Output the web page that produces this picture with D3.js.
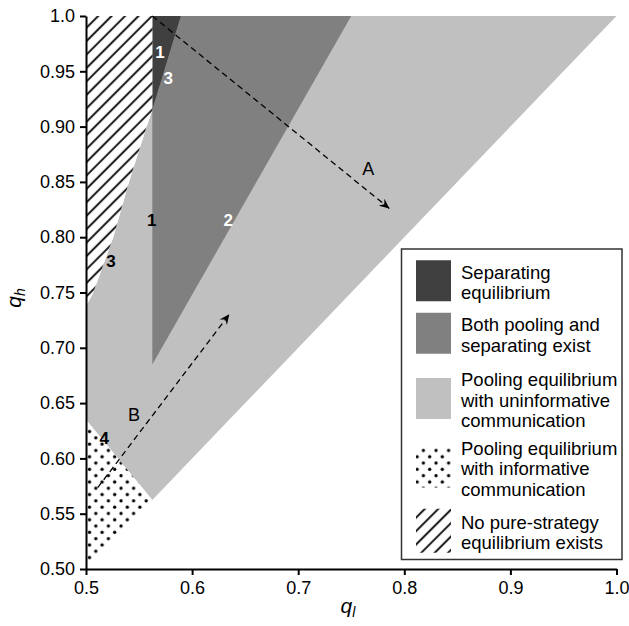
<!DOCTYPE html>
<html><head><meta charset="utf-8">
<script src="https://cdn.jsdelivr.net/npm/d3@7"></script>
<style>body{margin:0;background:#fff}svg{display:block}text{font-family:"Liberation Sans",Arial,Helvetica,sans-serif}</style>
</head><body><svg id="c" width="629" height="626"></svg>
<script>
// ---- data ----
const qlTicks = [0.5, 0.6, 0.7, 0.8, 0.9, 1.0];
const qlTickLabels = ["0.5", "0.6", "0.7", "0.8", "0.9", "1.0"];
const qhTicks = [0.5, 0.55, 0.6, 0.65, 0.7, 0.75, 0.8, 0.85, 0.9, 0.95, 1.0];
const qhTickLabels = ["0.50", "0.55", "0.60", "0.65", "0.70", "0.75", "0.80", "0.85", "0.90", "0.95", "1.0"];
// region boundaries [q_l, q_h]
const hatchBoundary = [[0.5, 0.7376], [0.5069, 0.75], [0.5257, 0.80], [0.5405, 0.85], [0.5572, 0.90], [0.5625, 0.915]];
const lightRegion = [[0.5, 0.635], ...hatchBoundary, [0.5625, 1.0], [1.0, 1.0], [0.5625, 0.5625]];
const mediumRegion = [[0.5625, 0.685], [0.5625, 0.915], [0.5895, 1.0], [0.75, 1.0]];
const darkRegion = [[0.5625, 0.915], [0.5625, 1.0], [0.5895, 1.0]];
const dottedRegion = [[0.5, 0.5], [0.5625, 0.5625], [0.5, 0.635]];
const hatchRegion = [...hatchBoundary, [0.5625, 1.0], [0.5, 1.0]];
// region number labels
const numLabels = [
  {t: "1", x: 0.5697, y: 0.9677, c: "#fff"},
  {t: "3", x: 0.5776, y: 0.9442, c: "#fff"},
  {t: "1", x: 0.5619, y: 0.816, c: "#000"},
  {t: "2", x: 0.6341, y: 0.816, c: "#fff"},
  {t: "3", x: 0.5236, y: 0.7783, c: "#000"},
  {t: "4", x: 0.5172, y: 0.6184, c: "#000"}
];
const arrows = [
  {name: "A", from: [0.5625, 1.0], to: [0.7859, 0.826], lx: 0.7661, ly: 0.8622},
  {name: "B", from: [0.511, 0.5735], to: [0.6351, 0.7303], lx: 0.5452, ly: 0.6395}
];
const legendLabels = [
  ["Separating", "equilibrium"],
  ["Both pooling and", "separating exist"],
  ["Pooling equilibrium", "with uninformative", "communication"],
  ["Pooling equilibrium", "with informative", "communication"],
  ["No pure-strategy", "equilibrium exists"]
];
const legendFills = ["#404040", "#808080", "#c0c0c0", "url(#dots)", "url(#hatch)"];

// ---- drawing ----
const svg = d3.select("#c");
const W = 629, H = 626, m = {l: 86, r: 12.5, t: 16, b: 57};
const x = d3.scaleLinear().domain([0.5, 1.0]).range([m.l, W - m.r]);
const y = d3.scaleLinear().domain([0.5, 1.0]).range([H - m.b, m.t]);

const defs = svg.append("defs");
const dp = defs.append("pattern").attr("id", "dots").attr("patternUnits", "userSpaceOnUse")
  .attr("width", 12.6).attr("height", 12.6).attr("x", m.l).attr("y", 0);
dp.append("rect").attr("width", 12.6).attr("height", 12.6).attr("fill", "#fff");
dp.append("circle").attr("cx", 3.5).attr("cy", 3.2).attr("r", 1.65).attr("fill", "#000");
dp.append("circle").attr("cx", 9.8).attr("cy", 9.5).attr("r", 1.65).attr("fill", "#000");
const hp = defs.append("pattern").attr("id", "hatch").attr("patternUnits", "userSpaceOnUse")
  .attr("width", 9.5).attr("height", 9.5).attr("patternTransform", "rotate(-45)");
hp.append("rect").attr("width", 9.5).attr("height", 9.5).attr("fill", "#fff");
hp.append("line").attr("x1", 0).attr("x2", 9.5).attr("y1", 4.75).attr("y2", 4.75)
  .attr("stroke", "#222").attr("stroke-width", 2.1);
const mk = defs.append("marker").attr("id", "ah").attr("viewBox", "-10 -5 11 10")
  .attr("refX", 0).attr("refY", 0).attr("markerWidth", 11).attr("markerHeight", 10)
  .attr("markerUnits", "userSpaceOnUse").attr("orient", "auto");
mk.append("path").attr("d", "M0,0 L-10,-4.5 L-6.5,0 L-10,4.5 Z").attr("fill", "#000");

const line = d3.line().x(d => x(d[0])).y(d => y(d[1]));
const poly = (pts, fill) => svg.append("path").attr("d", line(pts) + "Z").attr("fill", fill);
poly(lightRegion, "#c0c0c0");
poly(mediumRegion, "#808080");
poly(darkRegion, "#404040");
poly(dottedRegion, "url(#dots)");
poly(hatchRegion, "url(#hatch)");

// axes
const xAxis = d3.axisBottom(x).tickValues(qlTicks).tickFormat((d, i) => qlTickLabels[i]).tickSize(6).tickSizeOuter(0).tickPadding(6);
const yAxis = d3.axisLeft(y).tickValues(qhTicks).tickFormat((d, i) => qhTickLabels[i]).tickSize(6).tickSizeOuter(0).tickPadding(5);
const gx = svg.append("g").attr("transform", `translate(0,${y(0.5)})`).call(xAxis);
const gy = svg.append("g").attr("transform", `translate(${x(0.5)},0)`).call(yAxis);
[gx, gy].forEach(g => {
  g.select(".domain").attr("stroke", "#000").attr("stroke-width", 2);
  g.selectAll(".tick line").attr("stroke", "#000").attr("stroke-width", 2);
  g.selectAll(".tick text").attr("fill", "#000").attr("font-size", 18)
   .attr("font-family", '"Liberation Sans", Arial, sans-serif');
});

// axis titles
const tx = svg.append("text").attr("x", 348).attr("y", 613).attr("text-anchor", "middle")
  .attr("font-size", 21).attr("font-style", "italic");
tx.append("tspan").text("q");
tx.append("tspan").attr("font-size", 14).attr("dy", 4).text("l");
const ty = svg.append("text").attr("transform", "translate(21,298) rotate(-90)").attr("text-anchor", "middle")
  .attr("font-size", 21).attr("font-style", "italic");
ty.append("tspan").text("q");
ty.append("tspan").attr("font-size", 14).attr("dy", 4).text("h");

// arrows
arrows.forEach(a => {
  svg.append("line").attr("x1", x(a.from[0])).attr("y1", y(a.from[1]))
    .attr("x2", x(a.to[0])).attr("y2", y(a.to[1]))
    .attr("stroke", "#000").attr("stroke-width", 1.3).attr("stroke-dasharray", "6,4")
    .attr("marker-end", "url(#ah)");
  svg.append("text").attr("x", x(a.lx)).attr("y", y(a.ly)).attr("dy", "0.36em")
    .attr("text-anchor", "middle").attr("font-size", 18).text(a.name);
});

// number labels
numLabels.forEach(d => svg.append("text").attr("x", x(d.x)).attr("y", y(d.y)).attr("dy", "0.36em")
  .attr("text-anchor", "middle").attr("font-size", 17).attr("font-weight", "bold")
  .attr("fill", d.c).text(d.t));

// legend
svg.append("rect").attr("x", 401.5).attr("y", 249).attr("width", 220.5).attr("height", 310.5)
  .attr("fill", "#fff").attr("stroke", "#333").attr("stroke-width", 1.5);
const firstBase = [278.5, 331, 386, 454.5, 528.5];
const lh = 20.5;
legendFills.forEach((f, i) => {
  const lines = legendLabels[i];
  const b0 = firstBase[i], bN = b0 + lh * (lines.length - 1);
  const cy = (b0 - 13 + bN) / 2 - 1.5;
  const sh = i === 4 ? 44 : 41;
  svg.append("rect").attr("x", 416).attr("y", cy - sh / 2).attr("width", 35).attr("height", sh)
    .attr("fill", f);
  lines.forEach((t, j) => svg.append("text").attr("x", 461).attr("y", b0 + j * lh)
    .attr("font-size", 18.5).attr("fill", "#000").text(t));
});
</script></body></html>
